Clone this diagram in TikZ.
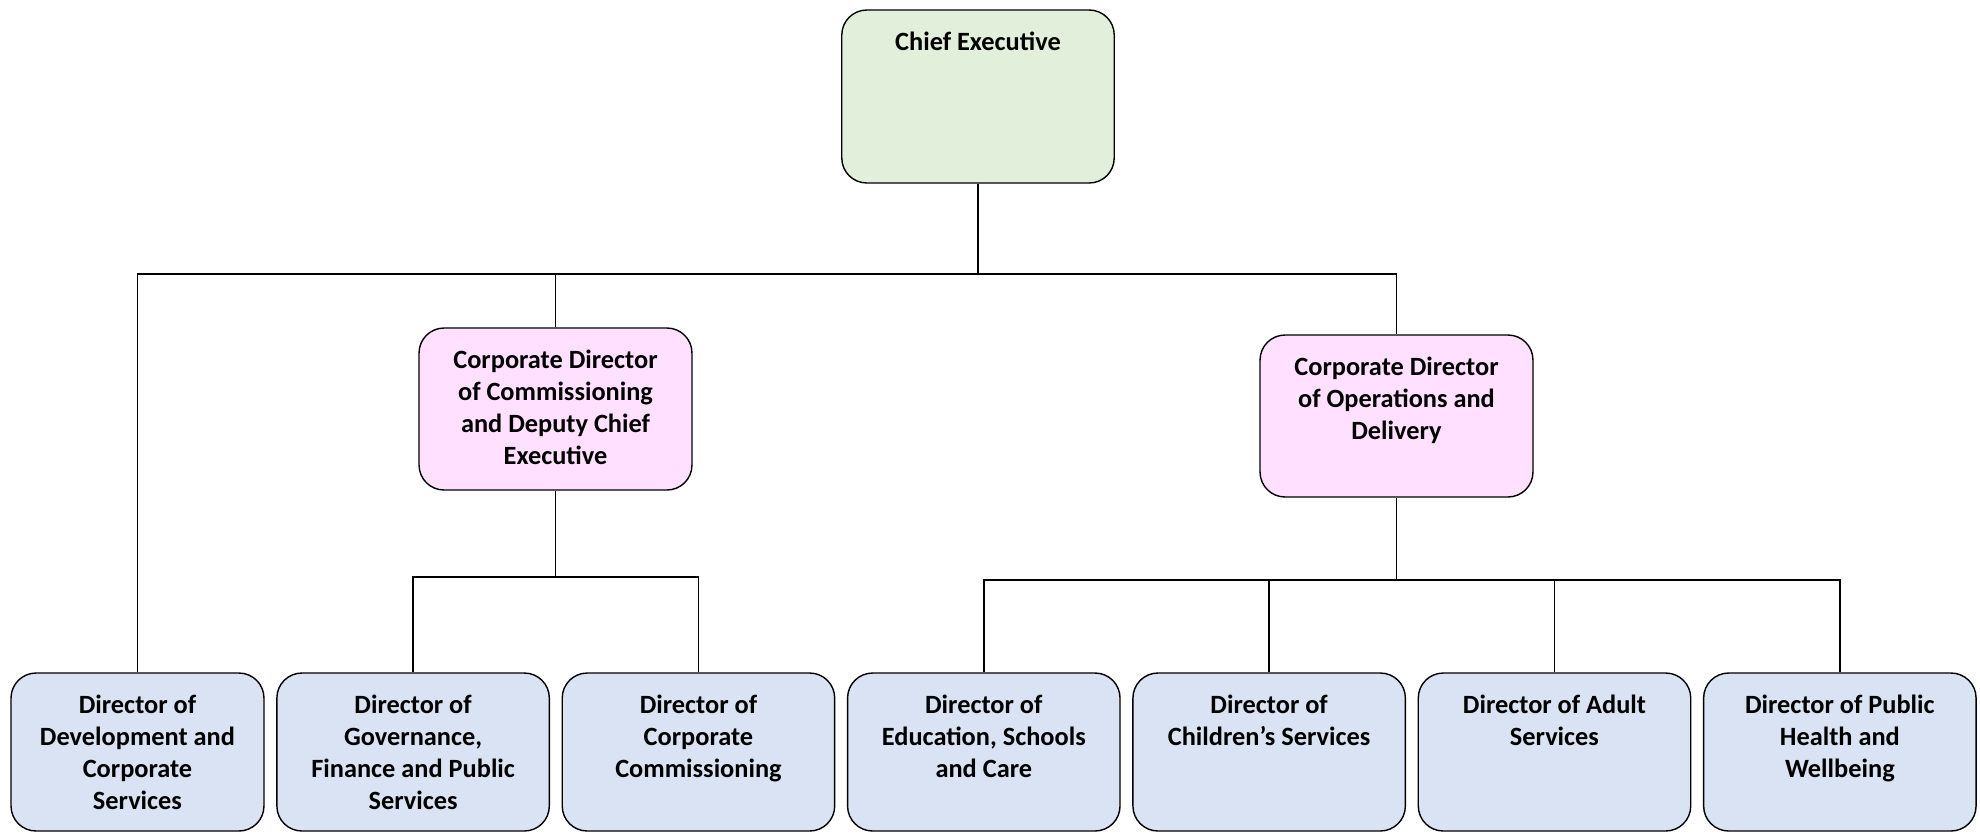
\documentclass[tikz,border=0pt]{standalone}
\usepackage{fontspec}
\setmainfont{Carlito}
\usetikzlibrary{positioning}
\definecolor{chiefgreen}{HTML}{E2EFDA}
\definecolor{corppink}{HTML}{FFE1FF}
\definecolor{dirblue}{HTML}{DAE3F3}
\newcommand{\boxlines}[2]{\parbox[c][#1][t]{4.8cm}{\vspace*{0.44cm}\centering #2}}

\begin{document}
\begin{tikzpicture}[
    x=0.02cm, y=-0.02cm,
    node distance=0.23cm,
    orgbox/.style={draw, line width=0.8pt, rounded corners=0.5cm, inner sep=0pt, minimum width=5.45cm, font=\fontsize{15}{18.2}\selectfont\bfseries},
    chiefbox/.style={orgbox, fill=chiefgreen},
    corpbox/.style={orgbox, fill=corppink, minimum width=5.46cm},
    dirbox/.style={orgbox, fill=dirblue},
    link/.style={line width=0.8pt}
]
\useasboundingbox (0,0) rectangle (1980,833);
% top
\node[chiefbox] (chief) at (978,96.5) {\boxlines{3.46cm}{Chief Executive}};
\node[corpbox] (cdcomm) at (555.5,409) {\boxlines{3.24cm}{Corporate Director\\of Commissioning\\and Deputy Chief\\Executive}};
\node[corpbox] (cdops) at (1396.5,416) {\boxlines{3.24cm}{Corporate Director\\of Operations and\\Delivery}};
% directors
\node[dirbox, minimum width=5.06cm] (dev) at (137.5,752) {\boxlines{3.16cm}{Director of\\Development and\\Corporate\\Services}};
\node[dirbox, right=of dev] (gov) {\boxlines{3.16cm}{Director of\\Governance,\\Finance and Public\\Services}};
\node[dirbox, right=of gov] (corpc) {\boxlines{3.16cm}{Director of\\Corporate\\Commissioning}};
\node[dirbox, right=of corpc] (edu) {\boxlines{3.16cm}{Director of\\Education, Schools\\and Care}};
\node[dirbox, right=of edu] (child) {\boxlines{3.16cm}{Director of\\Children's Services}};
\node[dirbox, right=of child] (adult) {\boxlines{3.16cm}{Director of Adult\\Services}};
\node[dirbox, right=of adult] (pubh) {\boxlines{3.16cm}{Director of Public\\Health and\\Wellbeing}};
% bus lines
\coordinate (busA) at (0,274);
\coordinate (busB) at (0,577);
\coordinate (busC) at (0,580);
\draw[link] (chief.south) -- (chief.south |- busA);
\draw[link] (dev.north) -- (dev.north |- busA) -- (cdops.north |- busA) -- (cdops.north);
\draw[link] (cdcomm.north) -- (cdcomm.north |- busA);
\draw[link] (cdcomm.south) -- (cdcomm.south |- busB);
\draw[link] (gov.north) -- (gov.north |- busB) -- (corpc.north |- busB) -- (corpc.north);
\draw[link] (cdops.south) -- (cdops.south |- busC);
\draw[link] (edu.north) -- (edu.north |- busC) -- (pubh.north |- busC) -- (pubh.north);
\draw[link] (child.north) -- (child.north |- busC);
\draw[link] (adult.north) -- (adult.north |- busC);
\end{tikzpicture}
\end{document}
